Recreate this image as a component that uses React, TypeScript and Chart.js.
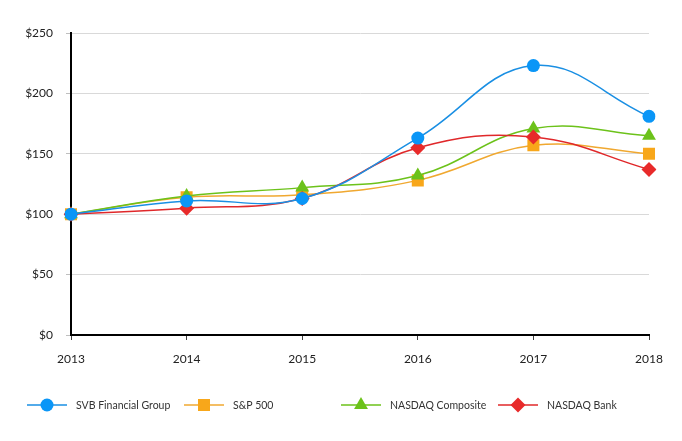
import React, { useEffect, useRef } from "react";
import { Chart, registerables } from "chart.js";
import { drawPoint } from "chart.js/helpers";

Chart.register(...registerables);

const years = ["2013", "2014", "2015", "2016", "2017", "2018"];
const svb = [100, 111, 113, 163, 223, 181];
const sp500 = [100, 114, 116, 128, 157, 150];
const nasdaqComposite = [100, 115, 122, 132, 171, 165];
const nasdaqBank = [100, 105, 113, 155, 164, 137];
const yTicks = [0, 50, 100, 150, 200, 250];

const FONT = "Lato, 'Open Sans', sans-serif";

const series = [
  { label: "SVB Financial Group", data: svb, color: "#1a8fe3", fill: "#0a96f7", style: "circle", radius: 6.5, order: 0, lx: 27 },
  { label: "S&P 500", data: sp500, color: "#f0a830", fill: "#f8a71a", style: "rect", radius: 8.5, order: 3, lx: 184 },
  { label: "NASDAQ Composite", data: nasdaqComposite, color: "#6cc21a", fill: "#6cc21a", style: "triangle", radius: 8, order: 2, lx: 341 },
  { label: "NASDAQ Bank", data: nasdaqBank, color: "#e0282a", fill: "#e82a2a", style: "rectRot", radius: 7.5, order: 1, lx: 498 },
];

const legendPlugin = {
  id: "customLegend",
  afterDraw(chart: any) {
    const ctx = chart.ctx;
    const y = 405;
    ctx.save();
    series.forEach((s) => {
      ctx.strokeStyle = s.color;
      ctx.lineWidth = 1.5;
      ctx.beginPath();
      ctx.moveTo(s.lx, y);
      ctx.lineTo(s.lx + 40, y);
      ctx.stroke();
      ctx.fillStyle = s.fill;
      ctx.strokeStyle = s.fill;
      drawPoint(ctx, { pointStyle: s.style, radius: s.radius, rotation: 0, borderWidth: 0 } as any, s.lx + 20, y);
      ctx.fillStyle = "#333";
      ctx.font = `10.5px ${FONT}`;
      ctx.textBaseline = "middle";
      ctx.textAlign = "left";
      ctx.fillText(s.label, s.lx + 49, y + 0.5);
    });
    ctx.restore();
  },
};

export default function App() {
  const ref = useRef<HTMLCanvasElement>(null);
  useEffect(() => {
    document.body.style.margin = "0";
    const chart = new Chart(ref.current!, {
      type: "line",
      data: {
        labels: years,
        datasets: series.map((s) => ({
          label: s.label,
          data: s.data,
          borderColor: s.color,
          backgroundColor: s.fill,
          pointBackgroundColor: s.fill,
          pointBorderColor: s.fill,
          pointBorderWidth: 0,
          pointStyle: s.style as any,
          pointRadius: s.radius,
          pointHoverRadius: s.radius,
          borderWidth: 1.5,
          tension: 0.4,
          order: s.order,
          fill: false,
        })),
      },
      options: {
        animation: false,
        responsive: false,
        maintainAspectRatio: false,
        layout: { padding: { top: 33, right: 33, left: 0, bottom: 0 } },
        plugins: { legend: { display: false }, tooltip: { enabled: false } },
        scales: {
          x: {
            type: "category",
            offset: false,
            grid: { drawOnChartArea: false, drawTicks: true, tickLength: 5, tickColor: "#404040" },
            border: { color: "#000", width: 2 },
            ticks: { color: "#222", font: { family: FONT, size: 12 }, padding: 12, maxRotation: 0 },
            afterFit: (scale: any) => {
              scale.height = 106;
            },
          },
          y: {
            min: 0,
            max: 250,
            afterBuildTicks: (scale: any) => {
              scale.ticks = yTicks.map((v) => ({ value: v }));
            },
            grid: { color: "#d9d9d9", tickLength: 5, tickColor: "#bfbfbf" },
            border: { color: "#000", width: 2 },
            ticks: {
              color: "#222",
              font: { family: FONT, size: 12 },
              padding: 13,
              callback: (v: any) => "$" + v,
            },
            afterFit: (scale: any) => {
              scale.width = 71;
            },
          },
        },
      },
      plugins: [legendPlugin],
    });
    return () => chart.destroy();
  }, []);
  return <canvas ref={ref} width={682} height={441} style={{ display: "block" }} />;
}
